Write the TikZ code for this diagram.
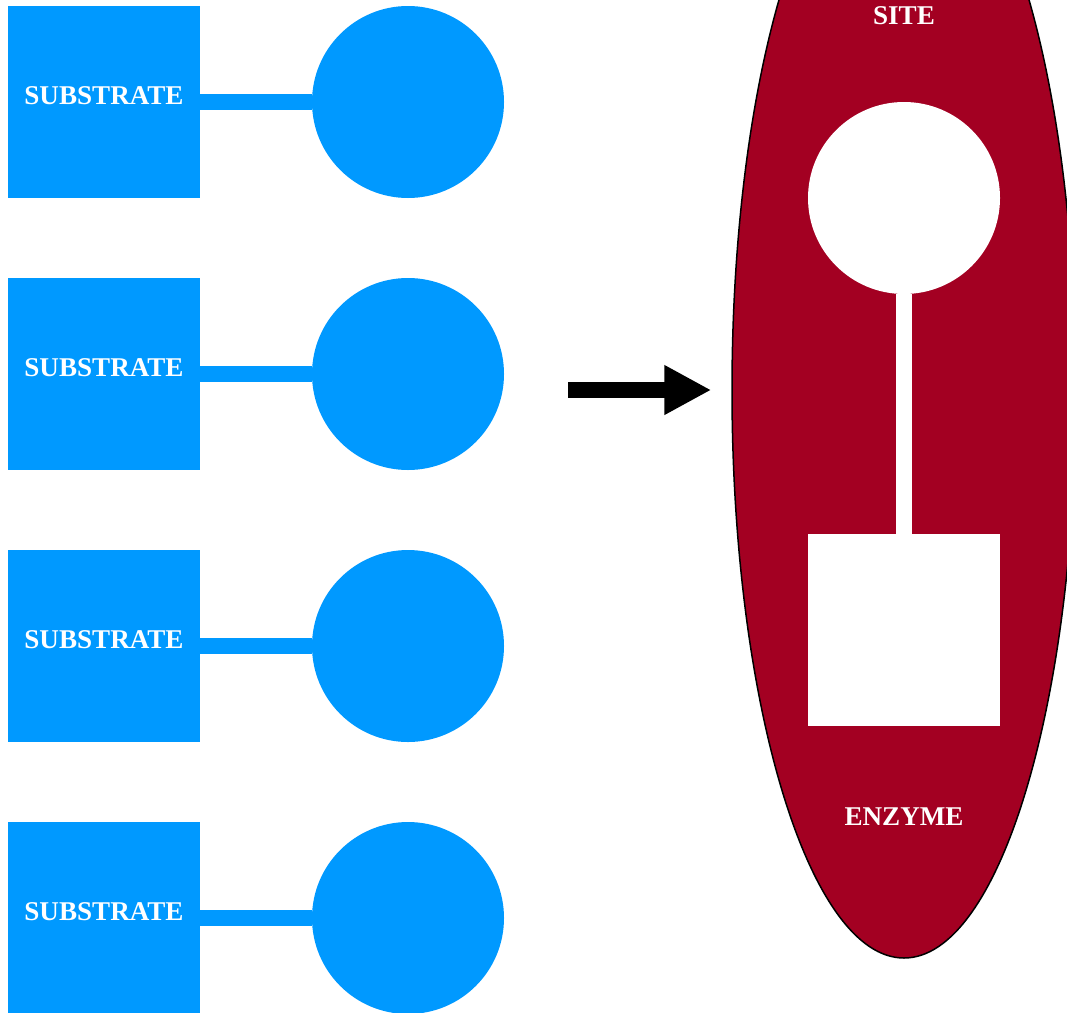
\documentclass[tikz,border=0pt]{standalone}
\usepackage{fontspec}
\setmainfont{Liberation Serif}
\usetikzlibrary{shapes.geometric,arrows.meta}
\definecolor{subblue}{HTML}{0099FF}
\definecolor{enzred}{HTML}{A30022}
\tikzset{
  lbl/.style={font=\fontsize{27.1}{30}\selectfont\bfseries, text=white},
  subbox/.style={lbl, fill=subblue, minimum size=192pt, inner sep=0pt, text height=17.9pt, text depth=12pt},
  subcirc/.style={circle, fill=subblue, minimum size=192pt, inner sep=0pt},
  sublink/.style={draw=subblue, line width=16pt},
  holecirc/.style={circle, fill=white, minimum size=192pt, inner sep=0pt},
  holebox/.style={fill=white, minimum size=192pt, inner sep=0pt},
  holelink/.style={draw=white, line width=16pt},
}
\begin{document}
\begin{tikzpicture}[x=1pt,y=-1pt]
\clip (0,0) rectangle (1067,1012);
\fill[white] (0,0) rectangle (1067,1012);
% substrates
\foreach \i/\y in {1/102,2/374,3/646,4/918}{
  \node[subbox] (s\i) at (104,\y) {SUBSTRATE};
  \node[subcirc] (c\i) at (408,\y) {};
  \draw[sublink] (s\i.east) -- (c\i.west);
}
% enzyme
\node[ellipse, draw=black, line width=1.5pt, fill=enzred, minimum width=344pt, minimum height=1136pt, inner sep=0pt] (enz) at (904,390) {};
\node[holecirc] (site) at (904,198) {};
\node[holebox] (pocket) at (904,630) {};
\draw[holelink] (site.south) -- (pocket.north);
\node[lbl] (sitelbl) at (904,16) {SITE};
\node[lbl] (enzlbl) at (904,817) {ENZYME};
% arrow
\coordinate (astart) at (568,390);
\draw[line width=16pt, -{Triangle[length=47pt,width=46.6pt]}, shorten >=20pt] (astart) -- (enz.west);
\end{tikzpicture}
\end{document}
